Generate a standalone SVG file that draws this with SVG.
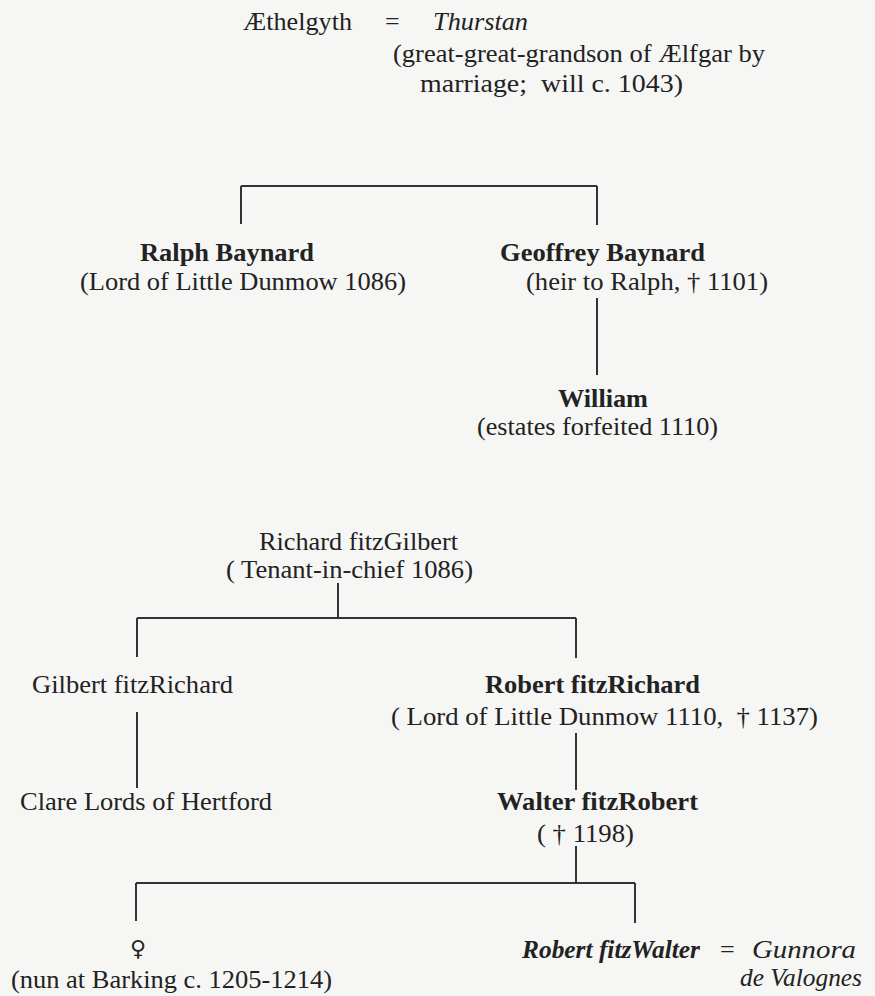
<svg xmlns="http://www.w3.org/2000/svg" width="875" height="996" viewBox="0 0 875 996">
<style>
text{font-family:"Liberation Serif","Times New Roman",serif;font-size:26px;fill:#222}
.b{font-weight:bold}
.i{font-style:italic}
.sym{font-family:"DejaVu Sans",sans-serif;font-size:22px}
.ln{stroke:#333;stroke-width:2;fill:none}
</style>
<rect width="875" height="996" fill="#f6f6f4"/>
<g id="connectors" class="ln">
<path d="M241 186H597M241 186V224M597 186V225"/>
<path d="M597 298V375"/>
<path d="M338 583V618M137 618H576M137 618V657M576 618V658"/>
<path d="M137 712V788"/>
<path d="M576 733V790"/>
<path d="M576 846V883M136 883H635M136 883V921M635 883V923"/>
</g>
<g id="aethelgyth"><text x="243" y="30" textLength="109" lengthAdjust="spacingAndGlyphs">Æthelgyth</text></g>
<g id="marriage1"><text x="385" y="30">=</text></g>
<g id="thurstan">
<text class="i" x="433" y="30" textLength="95" lengthAdjust="spacingAndGlyphs">Thurstan</text>
<text x="393" y="62" textLength="372" lengthAdjust="spacingAndGlyphs">(great-great-grandson of Ælfgar by</text>
<text x="420" y="92" textLength="263" lengthAdjust="spacingAndGlyphs">marriage;&#160; will c. 1043)</text>
</g>
<g id="ralph">
<text class="b" x="140" y="261" textLength="174" lengthAdjust="spacingAndGlyphs">Ralph Baynard</text>
<text x="80" y="290" textLength="326" lengthAdjust="spacingAndGlyphs">(Lord of Little Dunmow 1086)</text>
</g>
<g id="geoffrey">
<text class="b" x="500" y="261" textLength="205" lengthAdjust="spacingAndGlyphs">Geoffrey Baynard</text>
<text x="526" y="290" textLength="242" lengthAdjust="spacingAndGlyphs">(heir to Ralph, † 1101)</text>
</g>
<g id="william">
<text class="b" x="558" y="407" textLength="90" lengthAdjust="spacingAndGlyphs">William</text>
<text x="477" y="435" textLength="241" lengthAdjust="spacingAndGlyphs">(estates forfeited 1110)</text>
</g>
<g id="richard">
<text x="259" y="550" textLength="199" lengthAdjust="spacingAndGlyphs">Richard fitzGilbert</text>
<text x="226" y="578" textLength="247" lengthAdjust="spacingAndGlyphs">( Tenant-in-chief 1086)</text>
</g>
<g id="gilbert"><text x="32" y="693" textLength="201" lengthAdjust="spacingAndGlyphs">Gilbert fitzRichard</text></g>
<g id="robert-fitzrichard">
<text class="b" x="485" y="693" textLength="215" lengthAdjust="spacingAndGlyphs">Robert fitzRichard</text>
<text x="391" y="725" textLength="427" lengthAdjust="spacingAndGlyphs">( Lord of Little Dunmow 1110,&#160; † 1137)</text>
</g>
<g id="clare"><text x="20" y="810" textLength="252" lengthAdjust="spacingAndGlyphs">Clare Lords of Hertford</text></g>
<g id="walter">
<text class="b" x="497" y="810" textLength="201" lengthAdjust="spacingAndGlyphs">Walter fitzRobert</text>
<text x="537" y="842" textLength="97" lengthAdjust="spacingAndGlyphs">( † 1198)</text>
</g>
<g id="daughter">
<text class="sym" x="138" y="956" text-anchor="middle">♀</text>
<text x="11" y="988" textLength="321" lengthAdjust="spacingAndGlyphs">(nun at Barking c. 1205-1214)</text>
</g>
<g id="robert-fitzwalter"><text class="b i" x="522" y="958" textLength="178" lengthAdjust="spacingAndGlyphs">Robert fitzWalter</text></g>
<g id="marriage2"><text x="720" y="958">=</text></g>
<g id="gunnora">
<text class="i" x="752" y="958" textLength="104" lengthAdjust="spacingAndGlyphs">Gunnora</text>
<text class="i" x="740" y="986" textLength="122" lengthAdjust="spacingAndGlyphs">de Valognes</text>
</g>
</svg>
